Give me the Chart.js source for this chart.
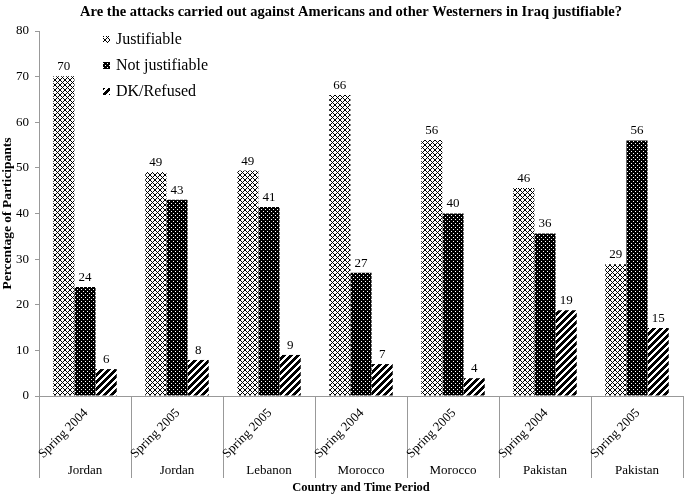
<!DOCTYPE html>
<html>
<head>
<meta charset="utf-8">
<script src="https://cdn.jsdelivr.net/npm/chart.js@4.4.1/dist/chart.umd.min.js"></script>
<style>
  html, body { margin: 0; padding: 0; background: #fff; }
  canvas { display: block; }
</style>
</head>
<body>
<canvas id="chart" width="685" height="496"></canvas>
<script>
// data
const periods = ['Spring 2004', 'Spring 2005', 'Spring 2005', 'Spring 2004', 'Spring 2005', 'Spring 2004', 'Spring 2005']
const countries = ['Jordan', 'Jordan', 'Lebanon', 'Morocco', 'Morocco', 'Pakistan', 'Pakistan']
const justifiable = [70.1, 49.1, 49.4, 66, 56.1, 45.6, 28.9]
const notJustifiable = [23.9, 43, 41.4, 27, 40, 35.6, 56]
const dkRefused = [5.9, 7.9, 9, 7, 3.9, 18.8, 14.9]
const seriesNames = ['Justifiable', 'Not justifiable', 'DK/Refused']
const yMin = 0, yMax = 80, yStep = 10

const SERIF = '"Liberation Serif", "Times New Roman", serif'

// fill patterns
function makePattern(kind) {
  const c = document.createElement('canvas')
  const size = kind === 'stripe' ? 7 : kind === 'dots' ? 4 : 5
  c.width = c.height = size
  const g = c.getContext('2d')
  g.fillStyle = kind === 'dots' ? '#000' : '#fff'
  g.fillRect(0, 0, size, size)
  for (let x = 0; x < size; x++) {
    for (let y = 0; y < size; y++) {
      let on = false
      if (kind === 'cross') on = x === y || x === size - 1 - y
      if (kind === 'dots') on = (x === 1 && y === 1) || (x === 3 && y === 3)
      if (kind === 'stripe') on = (x + y) % 7 < 4
      if (on) {
        g.fillStyle = kind === 'dots' ? '#fff' : '#000'
        g.fillRect(x, y, 1, 1)
      }
    }
  }
  return g.createPattern(c, 'repeat')
}

const patterns = [makePattern('cross'), makePattern('dots'), makePattern('stripe')]

const decor = {
  id: 'decor',
  afterDraw(chart) {
    const { ctx, chartArea, scales: { x } } = chart
    ctx.save()
    ctx.fillStyle = '#000'

    // title
    ctx.font = 'bold 14.5px ' + SERIF
    ctx.textAlign = 'center'
    ctx.textBaseline = 'middle'
    ctx.fillText('Are the attacks carried out against Americans and other Westerners in Iraq justifiable?', 351, 12)

    // values above bars
    ctx.font = '13px ' + SERIF
    ctx.textBaseline = 'bottom'
    chart.data.datasets.forEach((ds, di) => {
      chart.getDatasetMeta(di).data.forEach((bar, i) => {
        ctx.fillText(String(Math.round(ds.data[i])), bar.x, bar.y - 3)
      })
    })

    // category separators below the axis
    const step = x.getPixelForValue(1) - x.getPixelForValue(0)
    const first = x.getPixelForValue(0) - step / 2
    ctx.strokeStyle = '#999'
    ctx.lineWidth = 1
    for (let i = 0; i <= periods.length; i++) {
      const px = Math.round(first + i * step) + 0.5
      ctx.beginPath()
      ctx.moveTo(px, chartArea.bottom)
      ctx.lineTo(px, 478)
      ctx.stroke()
    }

    // rotated period labels and country names
    periods.forEach((p, i) => {
      const cx = x.getPixelForValue(i)
      ctx.save()
      ctx.translate(cx + 1, chartArea.bottom + 15)
      ctx.rotate(-Math.PI / 4)
      ctx.textAlign = 'right'
      ctx.textBaseline = 'middle'
      ctx.font = '13px ' + SERIF
      ctx.fillText(p, 0, 0)
      ctx.restore()
      ctx.textAlign = 'center'
      ctx.textBaseline = 'middle'
      ctx.font = '13px ' + SERIF
      ctx.fillText(countries[i], cx, 471)
    })

    // axis titles
    ctx.font = 'bold 12.5px ' + SERIF
    ctx.fillText('Country and Time Period', (chartArea.left + chartArea.right) / 2, 488)
    ctx.save()
    ctx.font = 'bold 13.5px ' + SERIF
    ctx.translate(8, (chartArea.top + chartArea.bottom) / 2)
    ctx.rotate(-Math.PI / 2)
    ctx.fillText('Percentage of Participants', 0, 0)
    ctx.restore()

    // legend
    ctx.font = '16px ' + SERIF
    ctx.textAlign = 'left'
    const rows = [40, 66, 92]
    seriesNames.forEach((name, i) => {
      ctx.fillStyle = patterns[i]
      ctx.fillRect(103, rows[i] - 4, 7, 7)
      ctx.fillStyle = '#000'
      ctx.fillText(name, 116, rows[i])
    })
    ctx.restore()
  }
}

new Chart(document.getElementById('chart'), {
  type: 'bar',
  data: {
    labels: periods.map((p, i) => countries[i] + ' ' + p),
    datasets: [
      { label: seriesNames[0], data: justifiable, backgroundColor: patterns[0] },
      { label: seriesNames[1], data: notJustifiable, backgroundColor: patterns[1] },
      { label: seriesNames[2], data: dkRefused, backgroundColor: patterns[2] }
    ]
  },
  options: {
    responsive: false,
    animation: false,
    datasets: { bar: { categoryPercentage: 0.69, barPercentage: 1.0, borderWidth: 0 } },
    layout: { padding: { top: 31, right: 2, bottom: 0, left: 0 } },
    plugins: {
      legend: { display: false },
      tooltip: { enabled: false }
    },
    scales: {
      x: {
        ticks: { display: false },
        grid: { display: false },
        border: { display: true, color: '#999' },
        afterFit: s => { s.height = 100 }
      },
      y: {
        min: yMin,
        max: yMax,
        ticks: { stepSize: yStep, color: '#000', padding: 6, font: { family: SERIF, size: 13 } },
        grid: { drawOnChartArea: false, drawTicks: true, tickLength: 4, color: '#999' },
        border: { display: true, color: '#999' },
        afterFit: s => { s.width = 39 }
      }
    }
  },
  plugins: [decor]
})
</script>
</body>
</html>
